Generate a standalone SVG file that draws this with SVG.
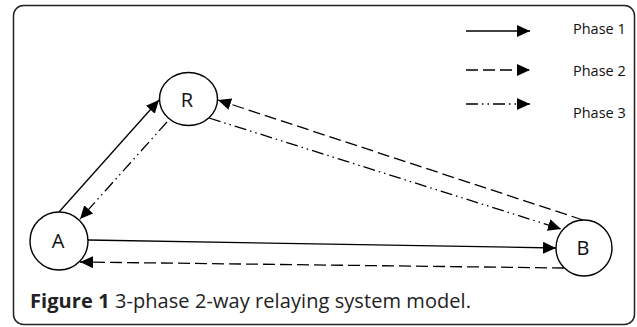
<svg xmlns="http://www.w3.org/2000/svg" width="637" height="327" viewBox="0 0 637 327">
<style>
.node{fill:#fff;stroke:#000;stroke-width:1.4}
.lbl{font-family:"Open Sans","Liberation Sans",sans-serif;font-size:20px;fill:#111;text-anchor:middle}
.leg{font-family:"Open Sans","Liberation Sans",sans-serif;font-size:14.5px;fill:#111}
.c{fill:none;stroke:#000;stroke-width:1.3}
.p2{stroke-dasharray:12 5}
.p3{stroke-dasharray:12 4 1.5 4 1.5 4}
.cap{font-family:"Open Sans","Liberation Sans",sans-serif;font-size:20px;fill:#222}
</style>
<defs>
<marker id="ah" markerUnits="userSpaceOnUse" markerWidth="14" markerHeight="12" refX="13" refY="6" orient="auto" viewBox="0 0 14 12">
<path d="M0,0 L13,6 L0,12 Z" fill="#000"/>
</marker>
</defs>
<rect x="13.5" y="5.5" width="621" height="319" rx="10" ry="10" fill="#fff" stroke="#222" stroke-width="1.5"/>
<g id="connectors">
<line class="c" x1="59" y1="212" x2="159" y2="100" marker-end="url(#ah)"/>
<line class="c p3" x1="167" y1="122" x2="80" y2="219" marker-end="url(#ah)"/>
<line class="c p2" x1="583" y1="220" x2="218" y2="100" marker-end="url(#ah)"/>
<line class="c p3" x1="209" y1="118" x2="561" y2="229" marker-end="url(#ah)"/>
<line class="c" x1="88" y1="240" x2="556" y2="248" marker-end="url(#ah)"/>
<line class="c p2" x1="564" y1="268" x2="80" y2="262" marker-end="url(#ah)"/>
</g>
<g id="legend">
<line class="c" x1="466" y1="31" x2="530" y2="31" marker-end="url(#ah)"/>
<line class="c p2" x1="466" y1="70" x2="530" y2="70" marker-end="url(#ah)"/>
<line class="c p3" x1="466" y1="104" x2="530" y2="104" marker-end="url(#ah)"/>
<text class="leg" x="573" y="34">Phase 1</text>
<text class="leg" x="573" y="76">Phase 2</text>
<text class="leg" x="573" y="118">Phase 3</text>
</g>
<g id="node-R">
<ellipse class="node" cx="188.5" cy="99" rx="29" ry="26.5"/>
<text class="lbl" x="187" y="107">R</text>
</g>
<g id="node-A">
<circle class="node" cx="59" cy="241" r="29"/>
<text class="lbl" x="58" y="248">A</text>
</g>
<g id="node-B">
<circle class="node" cx="584" cy="248" r="28"/>
<text class="lbl" x="583" y="255">B</text>
</g>
<text class="cap" x="30" y="308" textLength="441" lengthAdjust="spacing"><tspan font-weight="bold">Figure 1</tspan> 3-phase 2-way relaying system model.</text>
</svg>
